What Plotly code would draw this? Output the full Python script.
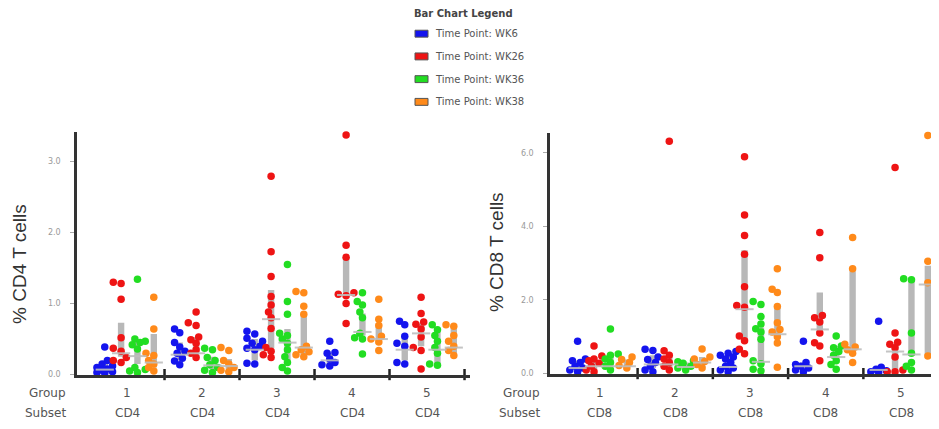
import plotly.graph_objects as go

# page body has an 8px default margin; figure is sized/placed to compensate
OFF = 8
W, H = 939 - OFF, 429 - OFF


def PX(x):
    return (x - OFF) / W


def PY(y):
    return 1 - (y - OFF) / H


TIMEPOINTS = ["WK6", "WK26", "WK36", "WK38"]
GROUPS = ["1", "2", "3", "4", "5"]
CD4_SUBSETS = ["CD4", "CD4", "CD4", "CD4", "CD4"]
CD8_SUBSETS = ["CD8", "CD8", "CD8", "CD8", "CD8"]
COLORS = ["#1414ee", "#ee1414", "#22dd22", "#ff8a1a"]

CD4_TICKS = [0, 1, 2, 3]
CD4_TICKTEXT = ["0.0", "1.0", "2.0", "3.0"]
CD8_TICKS = [0, 2, 4, 6]
CD8_TICKTEXT = ["0.0", "2.0", "4.0", "6.0"]

# ---- individual values, one list per group (1..5) ----
CD4_WK6 = [[0.39, 0.20, 0.15, 0.12, 0.10, 0.08, 0.06, 0.04, 0.02, 0.03],
           [0.64, 0.59, 0.45, 0.39, 0.33, 0.30, 0.23, 0.19, 0.14],
           [0.61, 0.57, 0.51, 0.47, 0.44, 0.40, 0.37, 0.35, 0.16, 0.15],
           [0.47, 0.31, 0.30, 0.22, 0.17, 0.14, 0.12],
           [0.75, 0.70, 0.54, 0.44, 0.40, 0.17, 0.15]]
CD4_WK26 = [[1.30, 1.28, 1.06, 0.52, 0.37, 0.33, 0.24, 0.20, 0.17],
            [0.88, 0.73, 0.69, 0.53, 0.49, 0.44, 0.35, 0.30, 0.24],
            [2.79, 1.73, 1.38, 1.10, 0.98, 0.88, 0.80, 0.65, 0.38, 0.33, 0.28, 0.24],
            [3.37, 1.82, 1.65, 1.15, 1.13, 1.11, 1.00, 0.72],
            [1.09, 0.86, 0.74, 0.71, 0.64, 0.53, 0.38, 0.34, 0.08]]
CD4_WK36 = [[1.34, 0.50, 0.47, 0.45, 0.42, 0.36, 0.10, 0.07, 0.05, 0.03],
            [0.37, 0.35, 0.24, 0.20, 0.14, 0.10, 0.06, 0.03],
            [1.55, 1.03, 0.85, 0.58, 0.55, 0.50, 0.44, 0.35, 0.25, 0.17, 0.10, 0.05],
            [1.15, 1.03, 0.98, 0.88, 0.80, 0.58, 0.52, 0.50, 0.29],
            [0.70, 0.63, 0.55, 0.47, 0.38, 0.30, 0.15, 0.13]]
CD4_WK38 = [[1.09, 0.64, 0.30, 0.27, 0.20, 0.15, 0.10, 0.05],
            [0.38, 0.34, 0.20, 0.15, 0.10, 0.06, 0.04],
            [1.17, 1.15, 0.96, 0.85, 0.40, 0.35, 0.32, 0.28, 0.25],
            [1.06, 0.78, 0.69, 0.54, 0.50, 0.46, 0.34],
            [0.70, 0.68, 0.55, 0.47, 0.40, 0.34, 0.27]]

CD8_WK6 = [[0.88, 0.40, 0.35, 0.30, 0.20, 0.15, 0.10, 0.05],
           [0.66, 0.63, 0.45, 0.38, 0.30, 0.20, 0.10, 0.05],
           [0.60, 0.55, 0.50, 0.45, 0.40, 0.30, 0.20, 0.15, 0.10, 0.05],
           [0.88, 0.30, 0.25, 0.20, 0.15, 0.10, 0.05],
           [1.42, 0.17, 0.12, 0.08, 0.05, 0.03]]
CD8_WK26 = [[0.75, 0.48, 0.40, 0.35, 0.28, 0.20, 0.10, 0.05],
            [6.31, 0.62, 0.50, 0.40, 0.30, 0.20, 0.10],
            [5.89, 4.31, 3.75, 3.24, 2.36, 1.85, 1.80, 1.02, 0.89, 0.66, 0.54],
            [3.83, 3.15, 1.58, 1.52, 1.40, 1.10, 0.84, 0.75, 0.35],
            [5.60, 1.10, 0.85, 0.80, 0.70, 0.45, 0.10, 0.05, 0.05]]
CD8_WK36 = [[1.21, 0.53, 0.50, 0.40, 0.30, 0.20, 0.10],
            [0.35, 0.32, 0.28, 0.20, 0.15, 0.10],
            [1.96, 1.88, 1.55, 1.35, 1.22, 1.13, 0.93, 0.35, 0.27, 0.12, 0.08],
            [1.02, 0.75, 0.70, 0.60, 0.50, 0.35, 0.25, 0.12],
            [2.58, 2.55, 1.10, 0.55, 0.30, 0.20, 0.10]]
CD8_WK38 = [[0.45, 0.38, 0.30, 0.22, 0.15],
            [0.67, 0.45, 0.40, 0.33, 0.25, 0.15],
            [2.85, 2.29, 2.20, 1.82, 1.38, 1.20, 1.13, 1.00, 0.83, 0.17],
            [3.70, 2.85, 0.80, 0.72, 0.65, 0.55, 0.30],
            [6.47, 3.05, 2.47, 0.48]]

# ---- grey range bars (low, high) and median per timepoint, groups 1..5 ----
CD4_BAR_LOW = [[0.03, 0.20, 0.20, 0.12, 0.20],
               [0.25, 0.25, 0.37, 1.10, 0.40],
               [0.15, 0.08, 0.20, 0.55, 0.15],
               [0.10, 0.08, 0.27, 0.46, 0.30]]
CD4_BAR_HIGH = [[0.15, 0.45, 0.50, 0.30, 0.55],
                [0.73, 0.53, 1.19, 1.65, 0.72],
                [0.47, 0.25, 0.64, 0.86, 0.60],
                [0.57, 0.22, 0.85, 0.72, 0.68]]
CD4_MEDIAN = [[0.07, 0.28, 0.35, 0.20, 0.35],
              [0.30, 0.30, 0.78, 1.12, 0.58],
              [0.26, 0.13, 0.45, 0.60, 0.35],
              [0.17, 0.12, 0.38, 0.50, 0.38]]

CD8_BAR_LOW = [[0.10, 0.15, 0.10, 0.10, 0.05],
               [0.10, 0.10, 0.93, 1.10, 0.10],
               [0.10, 0.10, 0.25, 0.30, 0.48],
               [0.12, 0.15, 1.00, 0.60, 0.48]]
CD8_BAR_HIGH = [[0.35, 0.50, 0.45, 0.30, 0.15],
                [0.40, 0.45, 3.35, 2.20, 0.80],
                [0.45, 0.30, 1.25, 0.75, 2.52],
                [0.38, 0.45, 1.85, 2.78, 2.93]]
CD8_MEDIAN = [[0.15, 0.25, 0.18, 0.20, 0.10],
              [0.20, 0.25, 1.75, 1.20, 0.60],
              [0.20, 0.18, 0.32, 0.45, 0.52],
              [0.20, 0.30, 1.07, 0.66, 2.42]]

CD4_POINTS = [CD4_WK6, CD4_WK26, CD4_WK36, CD4_WK38]
CD8_POINTS = [CD8_WK6, CD8_WK26, CD8_WK36, CD8_WK38]

# ---------------- layout geometry (reference pixel coords) ----------------
PANELS = [
    dict(xa="x", ya="y", xr=[-0.667, 4.573], yr=[0, 3.42], xpx=(77, 470), ypx=(379, 133),
         points=CD4_POINTS, low=CD4_BAR_LOW, high=CD4_BAR_HIGH, med=CD4_MEDIAN,
         ticks=CD4_TICKS, ticktext=CD4_TICKTEXT, subsets=CD4_SUBSETS,
         title="% CD4 T cells", tx=20, ty=267, lab_x=68),
    dict(xa="x2", ya="y2", xr=[-0.664, 4.505], yr=[0, 6.55], xpx=(550, 939), ypx=(378, 134),
         points=CD8_POINTS, low=CD8_BAR_LOW, high=CD8_BAR_HIGH, med=CD8_MEDIAN,
         ticks=CD8_TICKS, ticktext=CD8_TICKTEXT, subsets=CD8_SUBSETS,
         title="% CD8 T cells", tx=496, ty=255, lab_x=542),
]
for p in PANELS:
    p["xdom"] = [PX(p["xpx"][0]), min(1.0, PX(p["xpx"][1]))]
    p["ydom"] = [PY(p["ypx"][0]), PY(p["ypx"][1])]

COL_STEP = 0.218
COL_SHIFT = 0.03


def swarm(vals, ppu_x, ppu_y, diam=6.0, step=2.6, maxk=3):
    """Beeswarm horizontal offsets (in x data units) for one column."""
    order = sorted(range(len(vals)), key=lambda i: vals[i])
    placed = []
    offs = [0.0] * len(vals)
    cands = [0.0]
    for k in range(1, maxk + 1):
        cands += [-k * step, k * step]
    for i in order:
        y = vals[i] * ppu_y
        best, bestd, best_fallback = None, -1, 0.0
        for c in cands:
            d = min([((c - px) ** 2 + (y - py) ** 2) ** 0.5 for px, py in placed] + [1e9])
            if d >= diam:
                best = c
                break
            if d > bestd:
                bestd, best_fallback = d, c
        if best is None:
            best = best_fallback
        placed.append((best, y))
        offs[i] = best / ppu_x
    return offs


fig = go.Figure()

for p in PANELS:
    ppu_x = (p["xpx"][1] - p["xpx"][0]) / (p["xr"][1] - p["xr"][0])
    ppu_y = (p["ypx"][0] - p["ypx"][1]) / (p["yr"][1] - p["yr"][0])
    # bars
    for t in range(4):
        xs = [g + COL_SHIFT + (t - 1.5) * COL_STEP for g in range(5)]
        fig.add_trace(go.Bar(
            x=xs, y=[h - l for h, l in zip(p["high"][t], p["low"][t])], base=p["low"][t],
            width=0.085, marker=dict(color="#b8b8b8", line=dict(width=0)),
            xaxis=p["xa"], yaxis=p["ya"], showlegend=False, hoverinfo="skip"))
    # dots
    for t in range(4):
        xs, ys = [], []
        for g in range(5):
            vals = p["points"][t][g]
            offs = swarm(vals, ppu_x, ppu_y)
            for v, o in zip(vals, offs):
                xs.append(g + COL_SHIFT + (t - 1.5) * COL_STEP + o)
                ys.append(v)
        fig.add_trace(go.Scatter(
            x=xs, y=ys, mode="markers", cliponaxis=False,
            marker=dict(size=7.5, color=COLORS[t], line=dict(width=0)),
            xaxis=p["xa"], yaxis=p["ya"], showlegend=False, name="Time Point: " + TIMEPOINTS[t]))
    # median ticks
    for t in range(4):
        xs = [g + COL_SHIFT + (t - 1.5) * COL_STEP for g in range(5)]
        fig.add_trace(go.Scatter(
            x=xs, y=p["med"][t], mode="markers", cliponaxis=False,
            marker=dict(symbol="line-ew", size=13, line=dict(width=2, color="rgba(190,190,190,0.9)")),
            xaxis=p["xa"], yaxis=p["ya"], showlegend=False, hoverinfo="skip"))
    # group boundary ticks on x axis
    fig.add_trace(go.Scatter(
        x=[g + 0.5 for g in range(5)], y=[0] * 5, mode="markers", cliponaxis=False,
        marker=dict(symbol="line-ns", size=8, line=dict(width=2.5, color="#222")),
        xaxis=p["xa"], yaxis=p["ya"], showlegend=False, hoverinfo="skip"))

axis_common = dict(showgrid=False, zeroline=False, showline=True, linecolor="#333",
                   linewidth=2.5, fixedrange=True)
yaxis_common = dict(ticks="outside", ticklen=4, tickcolor="#aaa", tickwidth=1,
                    ticklabelstandoff=8, tickfont=dict(size=8, color="#999"))

fig.update_layout(
    width=W, height=H, margin=dict(l=0, r=0, t=0, b=0),
    paper_bgcolor="white", plot_bgcolor="white", barmode="overlay",
    showlegend=False, font=dict(family="DejaVu Sans", color="#555"),
    xaxis=dict(domain=PANELS[0]["xdom"], range=PANELS[0]["xr"], anchor="y",
               showticklabels=False, ticks="", **axis_common),
    yaxis=dict(domain=PANELS[0]["ydom"], range=PANELS[0]["yr"], anchor="x",
               tickvals=PANELS[0]["ticks"], ticktext=PANELS[0]["ticktext"],
               **yaxis_common, **axis_common),
    xaxis2=dict(domain=PANELS[1]["xdom"], range=PANELS[1]["xr"], anchor="y2",
                showticklabels=False, ticks="", **axis_common),
    yaxis2=dict(domain=PANELS[1]["ydom"], range=PANELS[1]["yr"], anchor="x2",
                tickvals=PANELS[1]["ticks"], ticktext=PANELS[1]["ticktext"],
                **yaxis_common, **axis_common),
)

ann = []
for p in PANELS:
    ann.append(dict(text=p["title"], x=PX(p["tx"]), y=PY(p["ty"]), xref="paper", yref="paper",
                    textangle=-90, showarrow=False, xanchor="center", yanchor="middle",
                    font=dict(family="Liberation Sans", size=19, color="#333")))
    ann.append(dict(text="Group", x=PX(p["lab_x"]), y=PY(398), xref="paper", yref="paper",
                    showarrow=False, xanchor="right", yanchor="middle",
                    font=dict(size=12, color="#555")))
    ann.append(dict(text="Subset", x=PX(p["lab_x"]), y=PY(418), xref="paper", yref="paper",
                    showarrow=False, xanchor="right", yanchor="middle",
                    font=dict(size=12, color="#555")))
    for g in range(5):
        ann.append(dict(text=GROUPS[g], x=g, y=PY(398), xref=p["xa"], yref="paper",
                        showarrow=False, xanchor="center", yanchor="middle",
                        font=dict(size=12, color="#555")))
        ann.append(dict(text=p["subsets"][g], x=g, y=PY(418), xref=p["xa"], yref="paper",
                        showarrow=False, xanchor="center", yanchor="middle",
                        font=dict(size=12, color="#555")))

# legend (manual)
ann.append(dict(text="<b>Bar Chart Legend</b>", x=PX(412), y=PY(14), xref="paper", yref="paper",
                showarrow=False, xanchor="left", yanchor="middle",
                font=dict(size=10, color="#444")))
shapes = []
for t in range(4):
    yc = 34 + t * 23
    shapes.append(dict(type="rect", xref="paper", yref="paper",
                       x0=PX(415), x1=PX(428), y0=PY(yc - 3.5), y1=PY(yc + 3.5),
                       fillcolor=COLORS[t], line=dict(width=1, color="#555")))
    ann.append(dict(text="Time Point: " + TIMEPOINTS[t], x=PX(433), y=PY(yc),
                    xref="paper", yref="paper", showarrow=False, xanchor="left",
                    yanchor="middle", font=dict(size=10, color="#555")))

fig.update_layout(annotations=ann, shapes=shapes)
fig.write_html("out.html")
